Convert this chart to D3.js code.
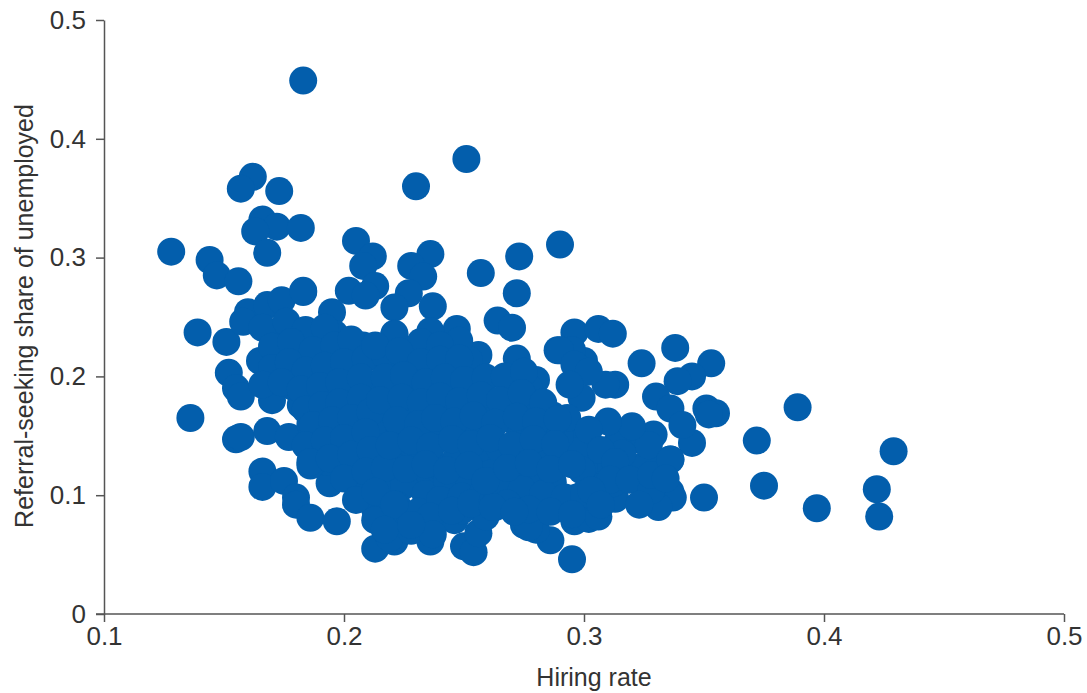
<!DOCTYPE html>
<html>
<head>
<meta charset="utf-8">
<script src="https://d3js.org/d3.v7.min.js"></script>
<style>
  html, body { margin: 0; padding: 0; background: #fff; }
  svg { display: block; }
  text { font-family: "Liberation Sans", sans-serif; fill: #333; }
</style>
</head>
<body>
<div id="chart"></div>
<script>
// values
var hiringRate = [
  .183,.251,.230,.162,.157,.173,.166,.172,.163,.182,.168,.128,.144,.147,.156,
  .205,.212,.208,.213,.202,.209,.183,.236,.228,.233,.227,.221,.237,.257,.273,.290,.272,.264,.270,
  .139,.151,.160,.158,.168,.174,.183,.195,.152,.155,.157,.136,.155,.157,.168,.177,.166,.166,.175,.180,.180,.186,.197,.194,
  .213,.221,.236,.250,.254,.256,.246,.286,.295,.275,.280,
  .389,.372,.375,.397,.422,.423,.429,.350,.345,.351,.355,.353,.345,.339,.338,.324,
  .296,.306,.312,.330,.336,.341,.329,.322,.314,.336,.329,.336,.337,.331,.313,.352,
  .289,.280,.272,.299,.313,.309,.300,.295,.290,.287,.283,.277,.256,.252,.247,.248,.236,
  .300,.289,.279,.277,.261,.259,.249,.240,.232,.221,.214,
  .296,.302,.306,.297,.304,.312,.318,.325,.327,.316,.320,.310,.306,.300,.293,
  .165,.173,.176,.185,.187,.192,.196,.199,.203,.208,.189,.179,.170,.182,.186,.192,.199,.205,.193,.186,
  .216,.221,.226,.218,.232,.238,.243,.213,.222,.229,.236,.244,.250,.208,.215,.224,.231,.240,.247,.254,
  .210,.219,.227,.234,.242,.251,.258,.205,.214,.223,.232,.239,.248,.257,.264,.200,.211,.220,.229,.237,.246,.255,.262,
  .203,.212,.221,.230,.238,.247,.256,.265,.207,.216,.225,.234,.243,.252,.261,.269,.213,.222,.231,.240,.249,.258,.267,
  .218,.227,.236,.245,.253,.262,.271,.219,.228,.237,.263,.272,.281,.269,.277,.285,.275,.283,.291,.279,.288,.296,
  .273,.281,.290,.267,.276,.284,.293,.274,.282,.291,.299,.270,.278,.287,.265,.274,.283,.292,.300,.268,.277,.286,.295,.262,.271,
  .166,.176,.184,.192,.170,.178,.187,.196,.203,.170,.177,.184,.192,.200,.209,.166,.174,.182,.190,.198,.207,.217,
  .184,.191,.198,.207,.187,.195,.203,.211,.184,.192,.200,.209,.186,.194,.203,.211,.200,.209,.217,.205,.213,.213,.221,.217,.228,
  .221,.213,.232,.240,.223,.232,.240,.248,.217,.225,.234,.242,.250,.259,.267,.275,
  .215,.224,.232,.240,.248,.257,.265,.274,.283,.222,.231,.238,.246,.254,.263,.272,.280,.289,
  .219,.228,.236,.245,.253,.261,.270,.279,.288,.226,.234,.243,.252,.259,.268,.277,.286,.295,
  .296,.302,.294,.302,.307,.313,.311,.319,.328,.303,.307,.323,.328,.336,.334
];
var referralShare = [
  .449,.383,.360,.368,.358,.356,.332,.326,.322,.325,.304,.305,.298,.285,.280,
  .314,.301,.293,.276,.272,.268,.271,.303,.293,.284,.270,.258,.259,.287,.301,.311,.270,.247,.241,
  .237,.229,.254,.246,.260,.264,.272,.254,.203,.190,.183,.165,.147,.149,.154,.149,.120,.107,.112,.098,.092,.081,.078,.110,
  .055,.061,.061,.057,.052,.068,.079,.062,.046,.075,.071,
  .174,.146,.108,.089,.105,.082,.137,.098,.144,.173,.169,.211,.200,.196,.224,.211,
  .237,.240,.236,.183,.173,.159,.151,.147,.145,.130,.124,.103,.098,.090,.097,.168,
  .222,.197,.215,.182,.193,.193,.213,.222,.222,.167,.172,.190,.218,.214,.240,.230,.238,
  .151,.152,.113,.073,.117,.082,.087,.104,.111,.130,.135,
  .078,.080,.082,.098,.108,.110,.125,.125,.142,.135,.158,.162,.130,.124,.146,
  .213,.222,.240,.228,.205,.222,.236,.215,.201,.226,.194,.191,.180,.176,.160,.150,.137,.148,.128,.125,
  .224,.236,.218,.205,.228,.200,.208,.191,.198,.212,.186,.203,.193,.172,.179,.188,.194,.176,.183,.189,
  .160,.168,.176,.161,.169,.176,.172,.145,.152,.158,.150,.157,.162,.168,.175,.130,.136,.141,.134,.143,.148,.152,.158,
  .115,.119,.124,.117,.126,.132,.133,.139,.100,.104,.108,.101,.112,.115,.118,.124,.088,.092,.086,.096,.099,.102,.108,
  .078,.074,.082,.087,.093,.095,.102,.064,.070,.067,.090,.091,.095,.105,.110,.117,.124,.128,.133,.141,.145,.137,
  .157,.162,.150,.176,.180,.170,.165,.133,.143,.127,.121,.120,.118,.111,.106,.105,.101,.098,.101,.093,.088,.086,.084,.090,.086,
  .241,.246,.239,.241,.225,.229,.222,.226,.231,.207,.212,.205,.209,.212,.215,.193,.195,.189,.192,.195,.199,.218,
  .172,.176,.178,.182,.159,.163,.165,.170,.142,.146,.148,.153,.128,.131,.134,.138,.114,.120,.123,.096,.103,.079,.092,.071,.075,
  .235,.226,.229,.226,.221,.212,.214,.215,.199,.201,.195,.199,.197,.199,.200,.204,
  .180,.182,.178,.183,.179,.184,.180,.186,.178,.163,.160,.165,.162,.167,.161,.166,.162,.164,
  .142,.146,.141,.147,.143,.148,.142,.147,.143,.122,.126,.121,.125,.112,.123,.127,.122,.126,
  .210,.204,.193,.155,.138,.128,.113,.113,.104,.104,.092,.092,.117,.130,.114
];
var xTicks = [0.1, 0.2, 0.3, 0.4, 0.5];
var yTicks = [0, 0.1, 0.2, 0.3, 0.4, 0.5];
var xTitle = "Hiring rate";
var yTitle = "Referral-seeking share of unemployed";

var width = 1087, height = 693;
var margin = { top: 20, right: 23, bottom: 79, left: 104 };

var svg = d3.select("#chart").append("svg")
  .attr("width", width)
  .attr("height", height);

var xScale = d3.scaleLinear().domain([0.1, 0.5]).range([margin.left, width - margin.right]);
var yScale = d3.scaleLinear().domain([0, 0.5]).range([height - margin.bottom, margin.top]);

var fmt = function (d) { return d === 0 ? "0" : d3.format(".1f")(d); };

svg.append("g")
  .selectAll("circle")
  .data(hiringRate)
  .join("circle")
  .attr("cx", function (d) { return xScale(d); })
  .attr("cy", function (d, i) { return yScale(referralShare[i]); })
  .attr("r", 14)
  .attr("fill", "#035eac");

var xAxis = svg.append("g")
  .attr("transform", "translate(0," + (height - margin.bottom) + ")")
  .call(d3.axisBottom(xScale).tickValues(xTicks).tickFormat(fmt).tickSize(8).tickPadding(5).tickSizeOuter(0));

var yAxis = svg.append("g")
  .attr("transform", "translate(" + margin.left + ",0)")
  .call(d3.axisLeft(yScale).tickValues(yTicks).tickFormat(fmt).tickSize(8).tickPadding(10).tickSizeOuter(0));

[xAxis, yAxis].forEach(function (g) {
  g.select(".domain").attr("stroke", "#555").attr("stroke-width", 1.5);
  g.selectAll(".tick line").attr("stroke", "#555").attr("stroke-width", 1.5);
  g.selectAll(".tick text").attr("font-size", 26).attr("font-family", "Liberation Sans").attr("fill", "#333");
});

// x axis line reaches past the y axis to the zero tick
xAxis.select(".domain").attr("d", "M" + (margin.left - 8) + ",0H" + (width - margin.right));

svg.append("text")
  .attr("x", 594)
  .attr("y", 686)
  .attr("text-anchor", "middle")
  .attr("font-size", 25)
  .text(xTitle);

svg.append("text")
  .attr("transform", "translate(33,316) rotate(-90)")
  .attr("text-anchor", "middle")
  .attr("font-size", 25)
  .text(yTitle);
</script>
</body>
</html>
